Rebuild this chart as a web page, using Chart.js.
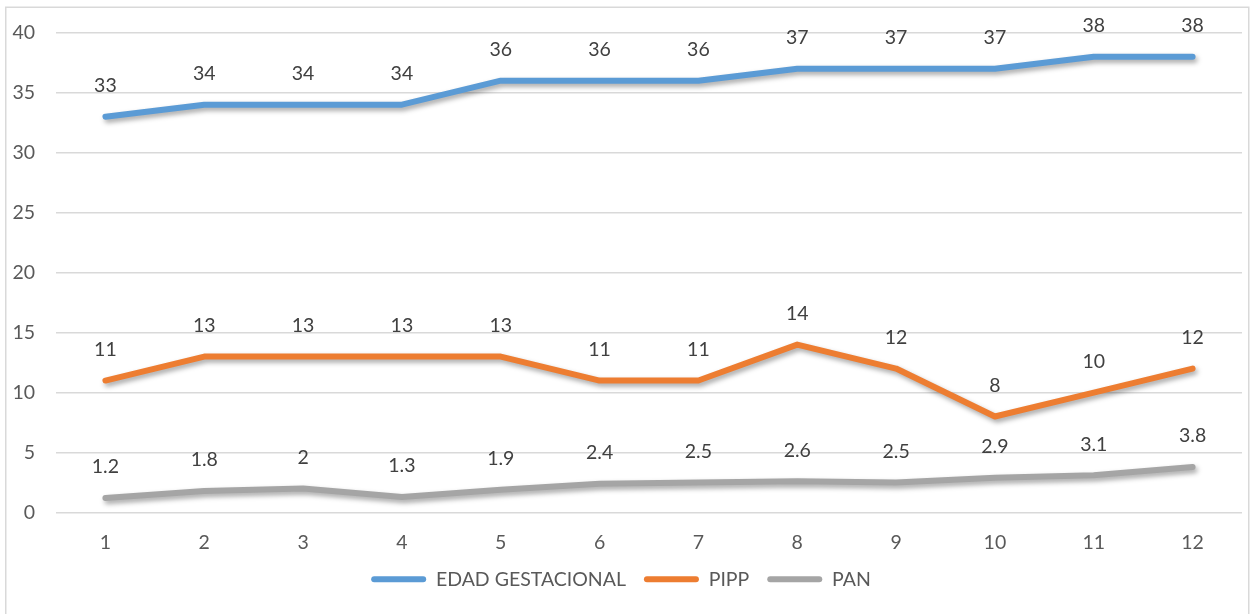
<!DOCTYPE html>
<html>
<head>
<meta charset="utf-8">
<script src="https://cdn.jsdelivr.net/npm/chart.js@4/dist/chart.umd.min.js"></script>
<style>
  html, body { margin: 0; padding: 0; background: #ffffff; }
  #wrap { position: relative; width: 1251px; height: 614px; }
</style>
</head>
<body>
<div id="wrap"><canvas id="c" width="1251" height="614"></canvas></div>
<script>
// Categories and series
const categories = ['1', '2', '3', '4', '5', '6', '7', '8', '9', '10', '11', '12'];
const edadGestacional = [33, 34, 34, 34, 36, 36, 36, 37, 37, 37, 38, 38];
const pipp = [11, 13, 13, 13, 13, 11, 11, 14, 12, 8, 10, 12];
const pan = [1.2, 1.8, 2, 1.3, 1.9, 2.4, 2.5, 2.6, 2.5, 2.9, 3.1, 3.8];
const yTicks = [0, 5, 10, 15, 20, 25, 30, 35, 40];

const FONT = 'Lato, "Liberation Sans", sans-serif';
const FONT_SIZE = 19.5;

// Light frame around the chart
const framePlugin = {
  id: 'frame',
  beforeDraw(chart) {
    const ctx = chart.ctx;
    ctx.save();
    ctx.fillStyle = '#ffffff';
    ctx.fillRect(0, 0, chart.width, chart.height);
    ctx.strokeStyle = '#D9D9D9';
    ctx.lineWidth = 1.5;
    ctx.strokeRect(5.75, 7.25, 1243, 620);
    ctx.restore();
  }
};

// Soft drop shadow under each line
const shadowPlugin = {
  id: 'lineShadow',
  beforeDatasetDraw(chart) {
    const ctx = chart.ctx;
    ctx.save();
    ctx.shadowColor = 'rgba(0,0,0,0.35)';
    ctx.shadowBlur = 5;
    ctx.shadowOffsetX = 2;
    ctx.shadowOffsetY = 3;
  },
  afterDatasetDraw(chart) {
    chart.ctx.restore();
  }
};

// Value labels above every point
const valueLabels = {
  id: 'valueLabels',
  afterDatasetsDraw(chart) {
    const ctx = chart.ctx;
    ctx.save();
    ctx.font = FONT_SIZE + 'px ' + FONT;
    ctx.fillStyle = '#404040';
    ctx.textAlign = 'center';
    ctx.textBaseline = 'middle';
    chart.data.datasets.forEach((ds, i) => {
      const meta = chart.getDatasetMeta(i);
      meta.data.forEach((pt, j) => {
        ctx.fillText(String(ds.data[j]), pt.x, pt.y - 31);
      });
    });
    ctx.restore();
  }
};

new Chart(document.getElementById('c'), {
  type: 'line',
  data: {
    labels: categories,
    datasets: [
      { label: 'EDAD GESTACIONAL', data: edadGestacional, borderColor: '#5B9BD5', backgroundColor: '#5B9BD5' },
      { label: 'PIPP', data: pipp, borderColor: '#ED7D31', backgroundColor: '#ED7D31' },
      { label: 'PAN', data: pan, borderColor: '#A5A5A5', backgroundColor: '#A5A5A5' }
    ]
  },
  options: {
    responsive: false,
    animation: false,
    devicePixelRatio: 1,
    layout: { padding: { top: 31, right: 9, bottom: 15, left: 0 } },
    elements: {
      line: { borderWidth: 6, tension: 0, borderCapStyle: 'round', borderJoinStyle: 'round' },
      point: { radius: 0, hoverRadius: 0 }
    },
    scales: {
      x: {
        type: 'category',
        offset: true,
        grid: { display: false, drawTicks: false },
        border: { display: false },
        ticks: { color: '#595959', font: { family: FONT, size: FONT_SIZE }, padding: 19 },
        afterFit(scale) { scale.height = 39; }
      },
      y: {
        min: 0,
        max: 40,
        afterBuildTicks(scale) { scale.ticks = yTicks.map(v => ({ value: v })); },
        grid: { color: '#D9D9D9', lineWidth: 1.5, drawTicks: false },
        border: { display: false },
        ticks: { color: '#595959', font: { family: FONT, size: FONT_SIZE }, padding: 21 },
        afterFit(scale) { scale.width = 56; }
      }
    },
    plugins: {
      tooltip: { enabled: false },
      legend: {
        position: 'bottom',
        labels: {
          color: '#595959',
          font: { family: FONT, size: FONT_SIZE },
          boxWidth: 55,
          boxHeight: 6,
          padding: 18,
          useBorderRadius: true,
          borderRadius: 3,
          generateLabels(chart) {
            return chart.data.datasets.map((ds, i) => ({
              text: ds.label,
              fillStyle: ds.borderColor,
              strokeStyle: ds.borderColor,
              lineWidth: 0,
              fontColor: '#595959',
              hidden: false,
              datasetIndex: i,
              borderRadius: 3
            }));
          }
        }
      }
    }
  },
  plugins: [framePlugin, shadowPlugin, valueLabels]
});
</script>
</body>
</html>
